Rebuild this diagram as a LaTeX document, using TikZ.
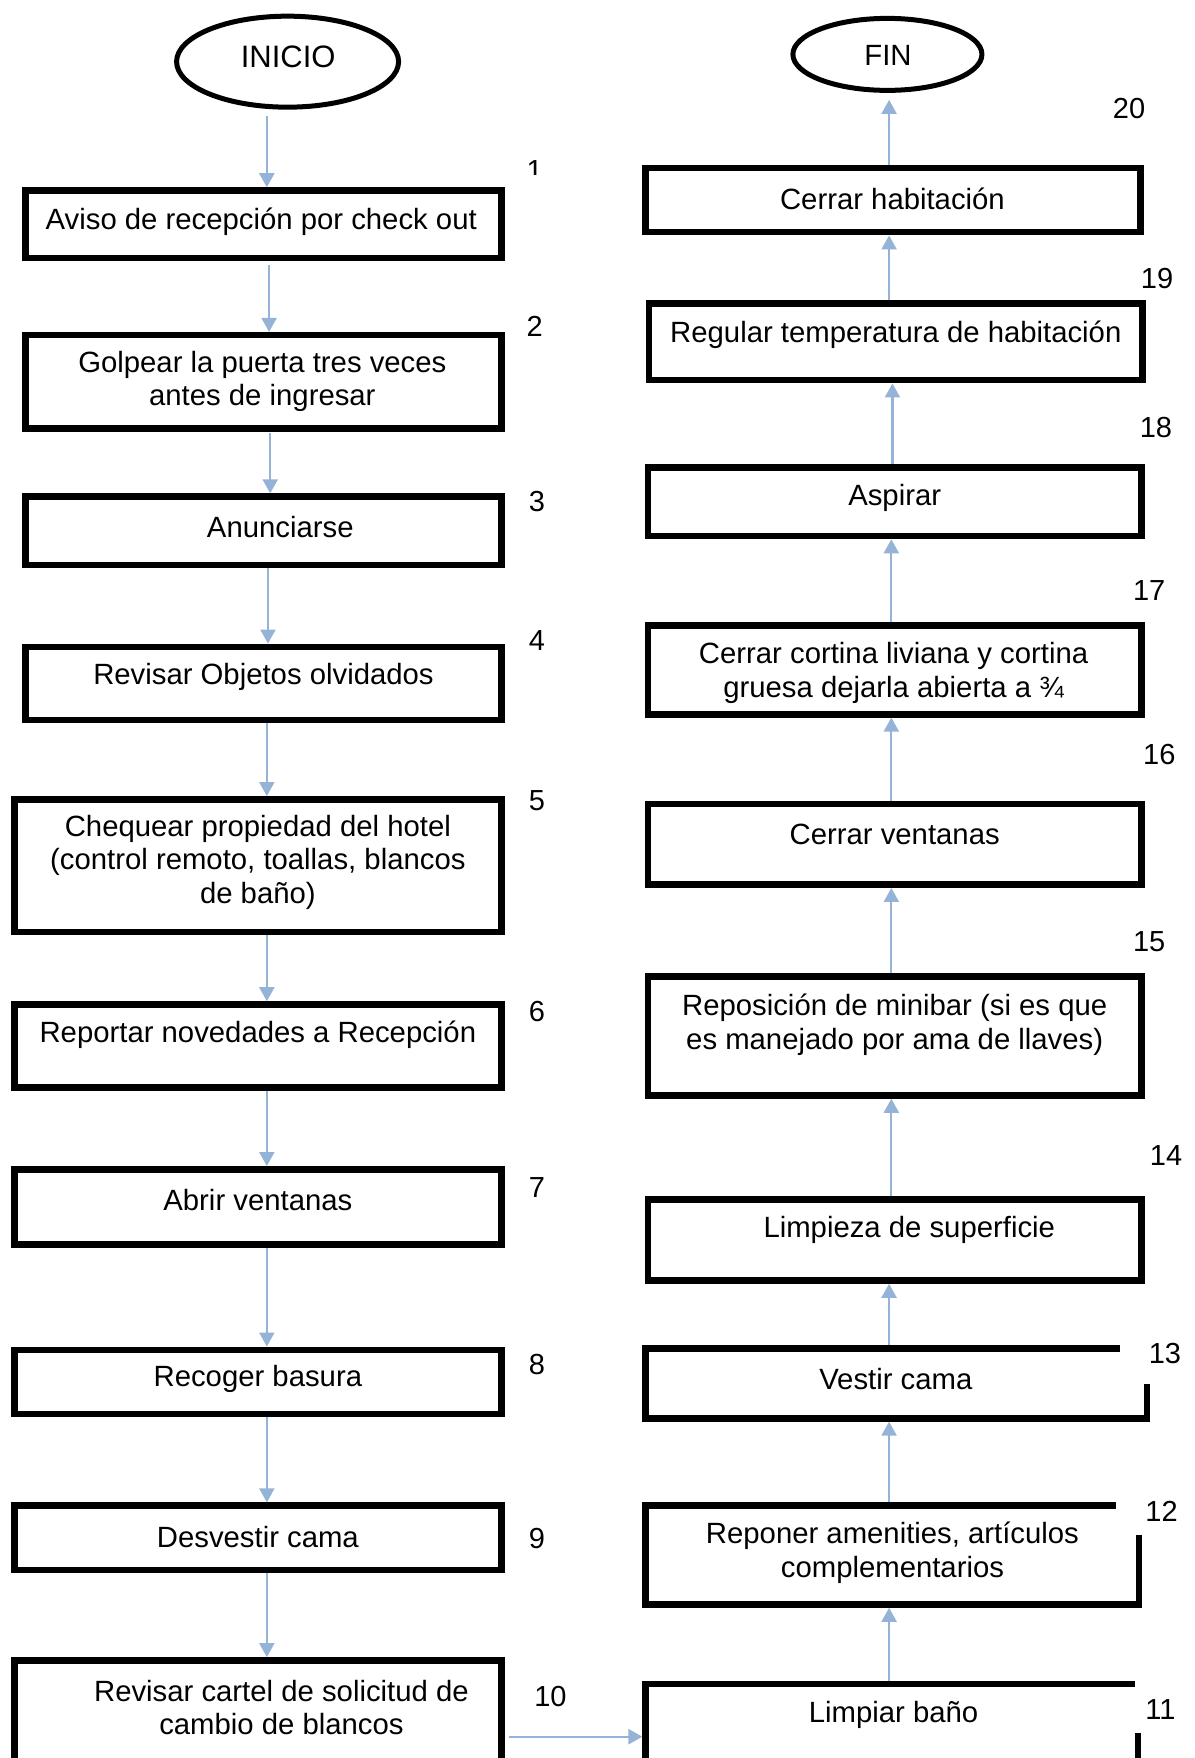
\documentclass[tikz,border=0pt]{standalone}
\usepackage{fontspec}
\setmainfont{Liberation Sans}
\usetikzlibrary{shapes.geometric,arrows.meta}
\definecolor{flowblue}{RGB}{149,179,215}
% box given by its outer edges: name, x1, x2, y1, y2
\newcommand\placebox[5]{%
  \node[flowbox, minimum width={(#3-#2)*1.1211-6.5}, minimum height={(#5-#4)*1.1211-6.5}]
    (#1) at ({(#2+#3)/2},{(#4+#5)/2}) {};}
\begin{document}
\begin{tikzpicture}[x=1.1211pt,y=-1.1211pt,
  flowbox/.style={draw=black, line width=6.5pt, rectangle, inner sep=0pt},
  term/.style={draw=black, line width=5pt, ellipse, inner sep=0pt},
  txt/.style={font=\fontsize{29.3}{33.5}\selectfont, align=center, inner sep=0pt},
  num/.style={font=\fontsize{29}{33}\selectfont, inner sep=0pt},
  flow/.style={draw=flowblue, line width=2.2pt, -{Triangle[width=15pt,length=14pt]}},
]
\useasboundingbox (0,0) rectangle (1065,1568);

% terminals
\node[term, minimum width=222pt, minimum height=91pt] (inicio) at (256.5,55) {};
\node[txt] (tinicio) at (257,51) {\fontsize{31}{34}\selectfont INICIO};
\node[term, minimum width=189pt, minimum height=72pt] (fin) at (791.5,48.5) {};
\node[txt] (tfin) at (792,49) {FIN};

% left column
\placebox{b1}{20}{450}{167}{233}
\placebox{b2}{20}{450}{296}{385}
\placebox{b3}{20}{450}{440}{507}
\placebox{b4}{20}{450}{574}{645}
\placebox{b5}{10}{450}{710}{834}
\placebox{b6}{10}{450}{893}{973}
\placebox{b7}{10}{450}{1040}{1113}
\placebox{b8}{10}{450}{1201}{1264}
\placebox{b9}{10}{450}{1340}{1403}
\placebox{b10}{10}{450}{1478}{1600}

% right column
\placebox{b20}{573}{1020}{147}{210}
\placebox{b19}{576}{1022}{268}{342}
\placebox{b18}{575}{1021}{414}{481}
\placebox{b17}{575}{1021}{555}{640}
\placebox{b16}{575}{1021}{714}{792}
\placebox{b15}{575}{1021}{868}{980}
\placebox{b14}{575}{1021}{1067}{1145}
\placebox{b13}{573}{1026}{1200}{1268}
\placebox{b12}{573}{1019}{1340}{1434}
\placebox{b11}{573}{1018}{1499}{1600}

% number labels sit in white frames that cover the box corners
\fill[white] (999,1188) rectangle (1075,1234);
\fill[white] (995,1328) rectangle (1075,1369);
\fill[white] (1012,1494) rectangle (1070,1546);

% step texts
\node[txt] (t1) at (233,198) {Aviso de recepción por check out};
\node[txt] (t2) at (234,340) {Golpear la puerta tres veces\\antes de ingresar};
\node[txt] (t3) at (250,470) {Anunciarse};
\node[txt] (t4) at (235,604) {Revisar Objetos olvidados};
\node[txt] (t5) at (230,769) {Chequear propiedad del hotel\\(control remoto, toallas, blancos\\de baño)};
\node[txt] (t6) at (230,923) {Reportar novedades a Recepción};
\node[txt] (t7) at (230,1070) {Abrir ventanas};
\node[txt] (t8) at (230,1230) {Recoger basura};
\node[txt] (t9) at (230,1371) {Desvestir cama};
\node[txt] (t10) at (251,1523) {Revisar cartel de solicitud de\\cambio de blancos};
\node[txt] (t11) at (797,1530) {Limpiar baño};
\node[txt] (t12) at (796,1385) {Reponer amenities, artículos\\complementarios};
\node[txt] (t13) at (799,1230) {Vestir cama};
\node[txt] (t14) at (811,1097) {Limpieza de superficie};
\node[txt] (t15) at (798,914) {Reposición de minibar (si es que\\es manejado por ama de llaves)};
\node[txt] (t16) at (798,744) {Cerrar ventanas};
\node[txt] (t17) at (797,600) {Cerrar cortina liviana y cortina\\gruesa dejarla abierta a ¾};
\node[txt] (t18) at (798,444) {Aspirar};
\node[txt] (t19) at (799,299) {Regular temperatura de habitación};
\node[txt] (t20) at (796,177) {Cerrar habitación};

% step numbers
\begin{scope}
  \clip (440,100) rectangle (520,156);
  \node[num] (n1) at (477,152) {1};
\end{scope}
\node[num] (n2) at (477,291) {2};
\node[num] (n3) at (479,447) {3};
\node[num] (n4) at (479,571) {4};
\node[num] (n5) at (479,714) {5};
\node[num] (n6) at (479,902) {6};
\node[num] (n7) at (479,1059) {7};
\node[num] (n8) at (479,1217) {8};
\node[num] (n9) at (479,1372) {9};
\node[num] (n10) at (491,1513) {10};
\node[num] (n11) at (1035,1525) {11};
\node[num] (n12) at (1036,1348) {12};
\node[num] (n13) at (1039,1207) {13};
\node[num] (n14) at (1040,1031) {14};
\node[num] (n15) at (1025,840) {15};
\node[num] (n16) at (1034,673) {16};
\node[num] (n17) at (1025,527) {17};
\node[num] (n18) at (1031,381) {18};
\node[num] (n19) at (1032,248) {19};
\node[num] (n20) at (1007,97) {20};

% guide lines for the connectors
\coordinate (xa) at (238,0);
\coordinate (xb) at (240,0);
\coordinate (xc) at (241,0);
\coordinate (xd) at (239,0);
\coordinate (xr) at (793,0);
\coordinate (xs) at (796,0);
\coordinate (xt) at (795,0);
\coordinate (yh) at (0,1549);

% connectors, left column (downwards)
\draw[flow, shorten <=6pt] (inicio.south -| xa) -- (b1.north -| xa);
\draw[flow, shorten <=4pt] (b1.south -| xb) -- (b2.north -| xb);
\draw[flow, shorten <=1pt] (b2.south -| xc) -- (b3.north -| xc);
\draw[flow] (b3.south -| xd) -- (b4.north -| xd);
\draw[flow] (b4.south -| xa) -- (b5.north -| xa);
\draw[flow] (b5.south -| xa) -- (b6.north -| xa);
\draw[flow] (b6.south -| xa) -- (b7.north -| xa);
\draw[flow] (b7.south -| xa) -- (b8.north -| xa);
\draw[flow] (b8.south -| xa) -- (b9.north -| xa);
\draw[flow] (b9.south -| xa) -- (b10.north -| xa);
% across to the right column
\draw[flow, shorten <=4pt] (b10.east |- yh) -- (b11.west |- yh);
% connectors, right column (upwards)
\draw[flow] (b11.north -| xr) -- (b12.south -| xr);
\draw[flow] (b12.north -| xr) -- (b13.south -| xr);
\draw[flow] (b13.north -| xr) -- (b14.south -| xr);
\draw[flow] (b14.north -| xt) -- (b15.south -| xt);
\draw[flow] (b15.north -| xt) -- (b16.south -| xt);
\draw[flow] (b16.north -| xt) -- (b17.south -| xt);
\draw[flow] (b17.north -| xt) -- (b18.south -| xt);
\draw[flow] (b18.north -| xs) -- (b19.south -| xs);
\draw[flow] (b19.north -| xr) -- (b20.south -| xr);
\draw[flow, shorten >=7pt] (b20.north -| xr) -- (fin.south -| xr);
\end{tikzpicture}
\end{document}
